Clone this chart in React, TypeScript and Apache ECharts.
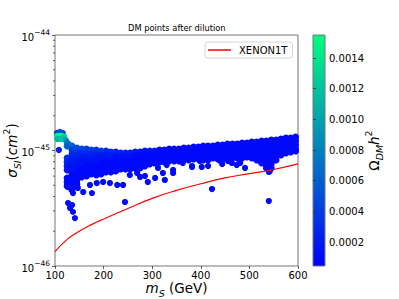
import React, { useEffect, useRef } from 'react';
import * as echarts from 'echarts';

const FONT = 'DejaVu Sans';

// XENON1T limit (sigma in units of 1e-45 cm^2)
const xenonMass = [100, 125, 150, 175, 200, 250, 300, 350, 400, 450, 500, 550, 600];
const xenonSigma = [0.133, 0.17, 0.2, 0.228, 0.255, 0.315, 0.385, 0.452, 0.515, 0.58, 0.63, 0.685, 0.765];

// dense band of DM points: mass columns, sigma (1e-45 cm^2), Omega h^2 (1e-4)
const bandMass = [125, 135, 145, 155, 165, 175, 185, 195, 205, 215, 225, 235, 245, 255, 265, 275, 285, 295, 305, 315, 325, 335, 345, 355, 365, 375, 385, 395, 405, 415, 425, 435, 445, 455, 465, 475, 485, 495, 505, 515, 525, 535, 545, 555, 565, 575, 585, 595];
const bandSigma = [
  [1.094, 0.861, 0.795, 0.734, 0.678, 0.578, 0.534, 0.493],
  [1.094, 1.010, 0.933, 0.861, 0.795, 0.734, 0.678, 0.626, 0.578, 0.534, 0.493, 0.455],
  [1.051, 0.971, 0.896, 0.828, 0.764, 0.706, 0.652, 0.602, 0.556, 0.513],
  [1.031, 0.952, 0.879, 0.811, 0.749, 0.692, 0.639, 0.590],
  [1.031, 0.952, 0.879, 0.811, 0.749, 0.692, 0.639, 0.602],
  [1.010, 0.933, 0.861, 0.795, 0.734, 0.678, 0.626],
  [1.010, 0.933, 0.861, 0.795, 0.734, 0.678, 0.614],
  [0.990, 0.914, 0.844, 0.780, 0.720, 0.665, 0.626],
  [0.990, 0.914, 0.844, 0.780, 0.720, 0.652],
  [0.971, 0.896, 0.828, 0.764, 0.706, 0.652],
  [0.971, 0.896, 0.828, 0.764, 0.706, 0.665],
  [0.952, 0.879, 0.811, 0.749, 0.692],
  [0.952, 0.879, 0.811, 0.749, 0.692],
  [0.952, 0.879, 0.811, 0.749, 0.692],
  [0.971, 0.896, 0.828, 0.764, 0.706],
  [0.971, 0.896, 0.828, 0.764, 0.706],
  [0.990, 0.914, 0.844, 0.780, 0.734],
  [0.990, 0.914, 0.844, 0.764],
  [0.990, 0.914, 0.844, 0.780],
  [1.010, 0.933, 0.861, 0.795],
  [1.010, 0.933, 0.861, 0.795],
  [1.031, 0.952, 0.879, 0.811],
  [1.031, 0.952, 0.879, 0.811],
  [1.031, 0.952, 0.879, 0.811],
  [1.051, 0.971, 0.896, 0.828],
  [1.051, 0.971, 0.896, 0.828],
  [1.072, 0.990, 0.914, 0.844],
  [1.072, 0.990, 0.914, 0.844],
  [1.094, 1.010, 0.933, 0.861, 0.828],
  [1.094, 1.010, 0.933, 0.861, 0.828],
  [1.094, 1.010, 0.933, 0.861],
  [1.116, 1.031, 0.952, 0.879, 0.844],
  [1.116, 1.031, 0.952, 0.879, 0.844],
  [1.139, 1.051, 0.971, 0.896, 0.844],
  [1.139, 1.051, 0.971, 0.896, 0.861],
  [1.139, 1.051, 0.971, 0.896, 0.861],
  [1.161, 1.072, 0.990, 0.914, 0.861],
  [1.161, 1.072, 0.990, 0.914, 0.879],
  [1.185, 1.094, 1.010, 0.933, 0.861],
  [1.185, 1.094, 1.010, 0.933, 0.861, 0.828],
  [1.209, 1.116, 1.031, 0.952, 0.879, 0.811, 0.780],
  [1.209, 1.116, 1.031, 0.952, 0.879, 0.811, 0.749, 0.706],
  [1.233, 1.139, 1.051, 0.971, 0.896, 0.828, 0.764, 0.706],
  [1.233, 1.139, 1.051, 0.971, 0.896, 0.828],
  [1.258, 1.161, 1.072, 0.990, 0.914],
  [1.283, 1.185, 1.094, 1.010, 0.952],
  [1.283, 1.185, 1.094, 1.010, 0.971],
  [1.309, 1.209, 1.116, 1.031, 0.990],
];
const bandOmega = [
  [7, 3, 2.5, 2, 1.5, 1, 1, 1],
  [6, 4, 3, 2.5, 2, 1.5, 1.5, 1, 1, 1, 1, 1],
  [5, 3.5, 2.5, 2, 1.5, 1.5, 1, 1, 1, 1],
  [4.5, 3, 2, 1.5, 1.5, 1, 1, 1],
  [4, 3, 2, 1.5, 1, 1, 1, 1],
  [4, 2.5, 2, 1.5, 1, 1, 1],
  [3.5, 2.5, 1.5, 1.5, 1, 1, 1],
  [3.5, 2, 1.5, 1, 1, 1, 1],
  [3, 2, 1.5, 1, 1, 1],
  [3, 2, 1.5, 1, 1, 1],
  [2.5, 1.5, 1, 1, 1, 1],
  [2.5, 1.5, 1, 1, 1],
  [2, 1.5, 1, 1, 1],
  [2, 1.5, 1, 1, 1],
  [2, 1, 1, 1, 1],
  [1.5, 1, 1, 1, 1],
  [1.5, 1, 1, 1, 1],
  [1.5, 1, 1, 1],
  [1.5, 1, 1, 1],
  [1.2, 1, 1, 1],
  [1.2, 1, 1, 1],
  [1, 1, 1, 1],
  [1, 1, 1, 1],
  [1, 1, 1, 1],
  [1, 1, 1, 1],
  [1, 1, 1, 1],
  [1, 1, 1, 1],
  [1, 1, 1, 1],
  [1, 1, 1, 1, 1],
  [1, 1, 1, 1, 1],
  [1, 1, 1, 1],
  [1, 1, 1, 1, 1],
  [1, 1, 1, 1, 1],
  [1, 1, 1, 1, 1],
  [1, 1, 1, 1, 1],
  [1, 1, 1, 1, 1],
  [1, 1, 1, 1, 1],
  [1, 1, 1, 1, 1],
  [1, 1, 1, 1, 1],
  [1, 1, 1, 1, 1, 1],
  [1, 1, 1, 1, 1, 1, 1],
  [1, 1, 1, 1, 1, 1, 1, 1],
  [1, 1, 1, 1, 1, 1, 1, 1],
  [1, 1, 1, 1, 1, 1],
  [1, 1, 1, 1, 1],
  [1, 1, 1, 1, 1],
  [1, 1, 1, 1, 1],
  [1, 1, 1, 1, 1],
];

// scattered points below the band
const outlierMass = [127, 137, 147, 158, 172, 176, 186, 199, 213, 228, 240, 127, 135, 131, 137, 141, 244, 254, 269, 285, 275, 291, 306, 322, 326, 343, 363, 382, 402, 423, 302, 312, 330, 343, 363, 382, 398, 415, 440, 456, 474, 491, 542, 444, 464, 481, 540, 540];
const outlierSigma = [0.483, 0.428, 0.474, 0.437, 0.503, 0.428, 0.523, 0.534, 0.523, 0.503, 0.503, 0.351, 0.337, 0.318, 0.294, 0.260, 0.358, 0.614, 0.639, 0.602, 0.590, 0.534, 0.578, 0.639, 0.556, 0.678, 0.780, 0.720, 0.720, 0.464, 0.811, 0.706, 0.749, 0.639, 0.811, 0.734, 0.811, 0.734, 0.811, 0.811, 0.749, 0.706, 0.665, 0.764, 0.780, 0.780, 0.652, 0.365];
const outlierOmega = [1.2, 1, 1, 1, 1, 1, 1, 1, 1, 1, 1, 1, 1, 1, 1, 1, 1, 1, 1, 1, 1, 1, 1, 1, 1, 1, 1, 1, 1, 1, 1, 1, 1, 1, 1, 1, 1, 1, 1, 1, 1, 1, 1, 1, 1, 1, 1, 1];

// low-mass cluster (drawn last)
const clusterMass = [104, 110, 116, 104, 109, 114, 119, 105, 111, 117, 122, 124, 128, 126, 108];
const clusterSigma = [1.418, 1.446, 1.418, 1.335, 1.335, 1.335, 1.309, 1.258, 1.258, 1.258, 1.233, 1.185, 1.139, 1.094, 1.010];
const clusterOmega = [4, 5, 5, 14, 15, 15, 13, 11, 12, 12, 10, 8, 7, 6, 2];

const yMinorTicks = [0.2, 0.3, 0.4, 0.5, 0.6, 0.7, 0.8, 0.9, 2, 3, 4, 5, 6, 7, 8, 9];
const cbarTicks = [0.0002, 0.0004, 0.0006, 0.0008, 0.001, 0.0012, 0.0014];
const cbarMin = 0.000044;
const cbarMax = 0.00155;

const baseRich = (size: number) => ({
  n: { fontFamily: FONT, fontSize: size, color: '#000', lineHeight: 20, verticalAlign: 'middle' },
  i: { fontFamily: FONT, fontSize: size, fontStyle: 'italic', color: '#000', lineHeight: 20, verticalAlign: 'middle' },
  sb: { fontFamily: FONT, fontSize: size * 0.7, fontStyle: 'italic', color: '#000', lineHeight: 20, verticalAlign: 'bottom' },
  sp: { fontFamily: FONT, fontSize: size * 0.7, color: '#000', lineHeight: 20, verticalAlign: 'top' },
});

export default function App() {
  const ref = useRef<HTMLDivElement>(null);
  useEffect(() => {
    const chart = echarts.init(ref.current!, null, { renderer: 'svg' });
    const bandPoints: number[][] = [];
    bandMass.forEach((m, i) => {
      bandSigma[i].forEach((s, j) => bandPoints.push([m, s, bandOmega[i][j] * 1e-4]));
    });
    const otherPoints: number[][] = [];
    outlierMass.forEach((m, i) => otherPoints.push([m, outlierSigma[i], outlierOmega[i] * 1e-4]));
    clusterMass.forEach((m, i) => otherPoints.push([m, clusterSigma[i], clusterOmega[i] * 1e-4]));

    const option: any = {
      animation: false,
      backgroundColor: '#fff',
      textStyle: { fontFamily: FONT },
      title: {
        text: 'DM points after dilution',
        left: 128,
        top: 24,
        padding: 0,
        textStyle: { fontFamily: FONT, fontSize: 8.3, fontWeight: 'normal', color: '#000' },
      },
      legend: {
        data: [{ name: 'XENON1T', icon: 'rect' }],
        selectedMode: false,
        left: 205,
        top: 42,
        itemWidth: 23,
        itemHeight: 1.5,
        padding: [3, 5, 3, 3],
        borderColor: '#d4d4d4',
        borderWidth: 1,
        borderRadius: 3,
        backgroundColor: 'rgba(255,255,255,0.8)',
        textStyle: { fontFamily: FONT, fontSize: 10, color: '#000', padding: [0, 0, 0, 3] },
      },
      visualMap: {
        show: false,
        type: 'continuous',
        seriesIndex: [0, 1],
        dimension: 2,
        min: cbarMin,
        max: cbarMax,
        inRange: { color: ['#0000ff', '#00ff80'] },
      },
      grid: [
        {
          left: 55, top: 35, width: 243, height: 231, show: true, borderColor: '#777', borderWidth: 1,
          backgroundColor: 'transparent', outerBoundsMode: 'none', containLabel: false,
        },
        {
          left: 313, top: 35, width: 12, height: 231, show: true, borderColor: '#777', borderWidth: 1,
          outerBoundsMode: 'none', containLabel: false,
          backgroundColor: new echarts.graphic.LinearGradient(0, 0, 0, 1, [
            { offset: 0, color: '#00ff80' },
            { offset: 1, color: '#0000ff' },
          ]),
        },
      ],
      xAxis: [
        {
          gridIndex: 0, type: 'value', min: 100, max: 600, interval: 100,
          axisLine: { show: false },
          axisTick: { show: true, length: 3, lineStyle: { color: '#333', width: 0.8 } },
          splitLine: { show: false },
          axisLabel: { fontFamily: FONT, fontSize: 10, color: '#000', margin: 4 },
          name: '{i|m}{sb|S}{n| (GeV)}',
          nameLocation: 'middle',
          nameGap: 12,
          nameMoveOverlap: false,
          nameTextStyle: { rich: baseRich(13.5) },
        },
        { gridIndex: 1, type: 'value', min: 0, max: 1, show: false },
      ],
      yAxis: [
        {
          gridIndex: 0, type: 'log', logBase: 10, min: 0.1, max: 10,
          axisLine: { show: false },
          axisTick: { show: true, length: 3, lineStyle: { color: '#333', width: 0.8 } },
          splitLine: { show: false },
          minorTick: { show: false },
          axisLabel: {
            margin: 5,
            formatter: (v: number) => `{b|10}{s|\u2212${45 - Math.round(Math.log10(v))}}`,
            rich: {
              b: { fontFamily: FONT, fontSize: 10, color: '#000', lineHeight: 14, verticalAlign: 'bottom' },
              s: { fontFamily: FONT, fontSize: 7.5, color: '#000', lineHeight: 14, verticalAlign: 'top' },
            },
          },
          name: '{i|σ}{sb|SI}{n|(}{i|cm}{sp|2}{n|)}',
          nameLocation: 'middle',
          nameRotate: 90,
          nameGap: 33,
          nameMoveOverlap: false,
          nameTextStyle: { rich: baseRich(13.5) },
        },
        {
          gridIndex: 1, type: 'value', position: 'right', min: cbarMin, max: cbarMax,
          axisLine: { show: false },
          splitLine: { show: false },
          axisTick: { show: true, length: 3, customValues: cbarTicks, lineStyle: { color: '#333', width: 0.8 } },
          axisLabel: {
            customValues: cbarTicks,
            formatter: (v: number) => v.toFixed(4),
            fontFamily: FONT, fontSize: 10, color: '#000', margin: 4,
          },
          name: '{n|Ω}{sb|DM}{i|h}{sp|2}',
          nameLocation: 'middle',
          nameRotate: 90,
          nameGap: 39,
          nameMoveOverlap: false,
          nameTextStyle: { rich: baseRich(13.5) },
        },
      ],
      series: [
        {
          type: 'scatter',
          name: 'DM band',
          xAxisIndex: 0, yAxisIndex: 0,
          data: bandPoints,
          symbolSize: 7,
          clip: true,
          itemStyle: { opacity: 1 },
        },
        {
          type: 'scatter',
          name: 'DM',
          xAxisIndex: 0, yAxisIndex: 0,
          data: otherPoints,
          symbolSize: 6.2,
          clip: true,
          itemStyle: { opacity: 1 },
        },
        {
          type: 'line',
          name: 'XENON1T',
          xAxisIndex: 0, yAxisIndex: 0,
          data: xenonMass.map((m, i) => [m, xenonSigma[i]]),
          color: '#ff0000',
          itemStyle: { color: '#ff0000' },
          lineStyle: { color: '#ff0000', width: 1.2 },
          symbol: 'none',
          smooth: true,
          z: 3,
        },
        {
          type: 'custom',
          name: 'minor',
          xAxisIndex: 0, yAxisIndex: 0,
          silent: true,
          clip: false,
          data: yMinorTicks.map((v) => [100, v]),
          renderItem: (_p: any, api: any) => {
            const pt = api.coord([api.value(0), api.value(1)]);
            return {
              type: 'line',
              shape: { x1: pt[0] - 2, y1: pt[1], x2: pt[0], y2: pt[1] },
              style: { stroke: '#333', lineWidth: 0.8 },
            };
          },
        },
      ],
    };
    chart.setOption(option);
    return () => chart.dispose();
  }, []);
  return (
    <div
      ref={ref}
      style={{ position: 'fixed', left: 0, top: 0, width: 399, height: 299, background: '#fff' }}
    />
  );
}
